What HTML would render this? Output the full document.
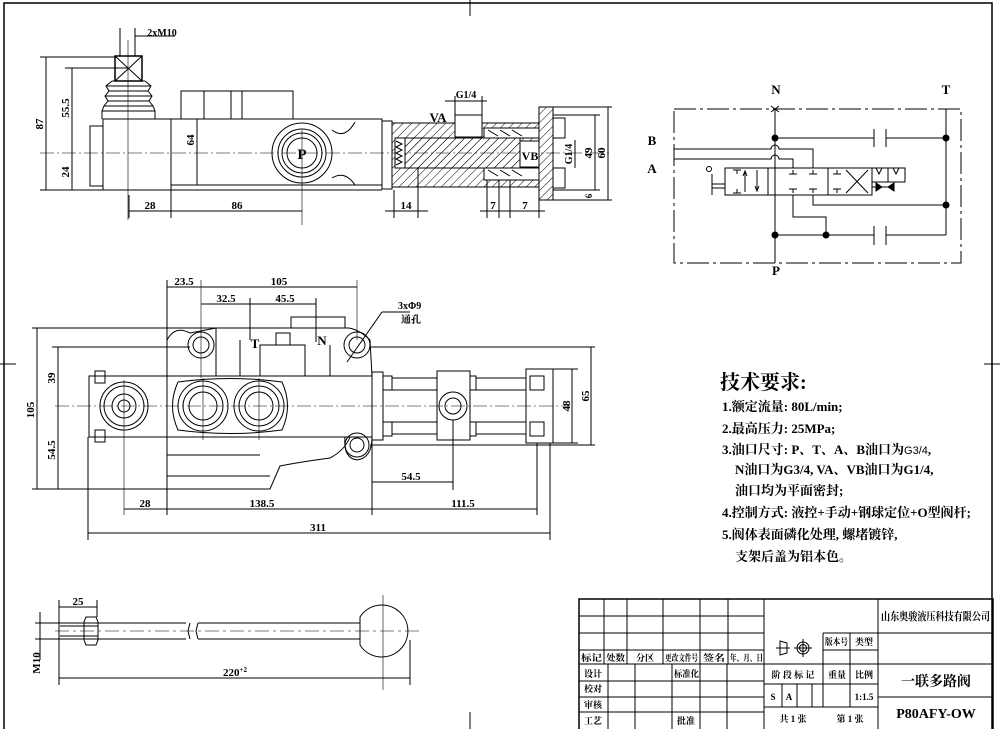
<!DOCTYPE html>
<html><head><meta charset="utf-8"><style>
html,body{margin:0;padding:0;background:#fff;}
svg{display:block;}
text{font-family:"Liberation Serif","Noto Serif CJK SC","Noto Sans CJK SC",serif;font-weight:bold;fill:#000;}
.s{font-family:"Liberation Sans","Noto Sans CJK SC",sans-serif;}
</style></head><body>
<svg width="1000" height="729" viewBox="0 0 1000 729" xmlns="http://www.w3.org/2000/svg">
<defs>
<pattern id="h" width="6" height="6" patternUnits="userSpaceOnUse" patternTransform="rotate(45)">
<line x1="0" y1="0" x2="0" y2="6" stroke="#000" stroke-width="1"/></pattern>
</defs>
<g fill="none" stroke="#000" stroke-width="1">
<rect x="4" y="3" width="988" height="730" stroke-width="1.5"/>
<line x1="470" y1="0" x2="470" y2="16"/><line x1="0" y1="364" x2="16" y2="364"/><line x1="984" y1="364" x2="1000" y2="364"/>
<line x1="470" y1="712" x2="470" y2="729"/>

<!-- TOP VIEW -->
<line x1="40" y1="153" x2="610" y2="153" stroke-dasharray="14,3,2,3" stroke-width="0.6"/>
<rect x="115" y="56" width="27" height="25" stroke-width="1.5"/>
<line x1="115" y1="56" x2="142" y2="81"/><line x1="142" y1="56" x2="115" y2="81"/>
<line x1="128" y1="40" x2="128" y2="220" stroke-width="0.6"/>
<line x1="120" y1="28" x2="120" y2="56"/><line x1="135" y1="28" x2="135" y2="56"/>
<line x1="135" y1="36" x2="175" y2="36"/>
<path d="M112 81 h33 M106 86 h45 M109 91 h39 M105 96 h47 M108 101 h41 M104 106 h49 M102 111 h53"/>
<path d="M112 81 L106 86 L109 91 L105 96 L108 101 L104 106 L102 111 L102 119 M145 81 L151 86 L148 91 L152 96 L149 101 L153 106 L155 111 L155 119"/>
<rect x="90" y="126" width="13" height="60"/>
<rect x="103" y="119" width="68" height="71"/>
<rect x="171" y="119" width="211" height="66"/>
<line x1="171" y1="190" x2="382" y2="190"/>
<rect x="181" y="91" width="112" height="28"/>
<line x1="204" y1="91" x2="204" y2="119"/><line x1="231" y1="91" x2="231" y2="119"/><line x1="242" y1="91" x2="242" y2="119"/>
<circle cx="302" cy="153" r="30"/>
<circle cx="302" cy="153" r="24"/><circle cx="302" cy="153" r="20"/><circle cx="302" cy="153" r="15"/>
<text x="302" y="159" text-anchor="middle" font-size="15" stroke="none">P</text>
<line x1="302" y1="130" x2="302" y2="225" stroke-width="0.6"/>
<path d="M332 130 Q345 140 355 122 M355 185 Q345 170 332 178" />
<rect x="382" y="121" width="10" height="68"/>
<path d="M392 123 H455 V115 H482 V123 H539 V187 H392 Z" fill="url(#h)"/>
<rect x="455" y="115" width="27" height="22" fill="#fff"/>
<rect x="403" y="138" width="117" height="30" fill="url(#h)"/>
<rect x="395" y="138" width="10" height="30" fill="#fff"/>
<path d="M396 141 l6 3 -6 3 6 3 -6 3 6 3 -6 3 6 3 -6 3" />
<rect x="484" y="128" width="55" height="10" fill="#fff"/>
<rect x="484" y="168" width="55" height="12" fill="#fff"/>
<path d="M488 130 l10 6 M500 130 l10 6 M512 130 l10 6 M488 170 l10 6 M500 170 l10 6 M512 170 l10 6"/>
<rect x="520" y="141" width="19" height="26" fill="#fff"/>
<text x="530" y="160" text-anchor="middle" font-size="12" stroke="none">VB</text>
<rect x="539" y="107" width="14" height="93" fill="url(#h)"/>
<rect x="553" y="118" width="12" height="20"/><rect x="553" y="168" width="12" height="20"/>
<text x="438" y="122" text-anchor="middle" font-size="13" stroke="none">VA</text>
<line x1="445" y1="101" x2="487" y2="101"/>
<text x="466" y="98" text-anchor="middle" font-size="10" stroke="none">G1/4</text>
<line x1="455" y1="96" x2="455" y2="115"/><line x1="482" y1="96" x2="482" y2="115"/>
<line x1="40" y1="57" x2="115" y2="57"/><line x1="65" y1="68" x2="128" y2="68"/>
<line x1="40" y1="190" x2="103" y2="190"/>
<line x1="46" y1="57" x2="46" y2="190"/><line x1="72" y1="68" x2="72" y2="190"/>
<line x1="129" y1="195" x2="129" y2="218"/><line x1="171" y1="190" x2="171" y2="218"/>
<line x1="129" y1="211" x2="302" y2="211"/>
<line x1="394" y1="190" x2="394" y2="218"/><line x1="418" y1="168" x2="418" y2="218"/>
<line x1="385" y1="211" x2="428" y2="211"/>
<line x1="487" y1="180" x2="487" y2="218"/><line x1="499" y1="180" x2="499" y2="218"/><line x1="510" y1="180" x2="510" y2="218"/><line x1="539" y1="200" x2="539" y2="218"/>
<line x1="480" y1="211" x2="545" y2="211"/>
<line x1="553" y1="115" x2="600" y2="115"/><line x1="553" y1="190" x2="600" y2="190"/>
<line x1="553" y1="107" x2="612" y2="107"/><line x1="553" y1="200" x2="612" y2="200"/>
<line x1="595" y1="115" x2="595" y2="190"/><line x1="608" y1="107" x2="608" y2="200"/>
<line x1="575" y1="140" x2="575" y2="168"/>
<line x1="197" y1="119" x2="197" y2="185"/>
</g>
<g stroke="none" font-size="11">
<text x="162" y="36" text-anchor="middle" font-size="10">2xM10</text>
<text transform="translate(43,124) rotate(-90)" text-anchor="middle">87</text>
<text transform="translate(69,108) rotate(-90)" text-anchor="middle">55.5</text>
<text transform="translate(69,172) rotate(-90)" text-anchor="middle">24</text>
<text transform="translate(194,140) rotate(-90)" text-anchor="middle">64</text>
<text x="150" y="209" text-anchor="middle">28</text>
<text x="237" y="209" text-anchor="middle">86</text>
<text x="406" y="209" text-anchor="middle">14</text>
<text x="493" y="209" text-anchor="middle">7</text>
<text x="525" y="209" text-anchor="middle">7</text>
<text transform="translate(592,153) rotate(-90)" text-anchor="middle">49</text>
<text transform="translate(605,153) rotate(-90)" text-anchor="middle">60</text>
<text transform="translate(572,154) rotate(-90)" text-anchor="middle" font-size="10">G1/4</text>
<text transform="translate(592,196) rotate(-90)" text-anchor="middle" font-size="9">6</text>
</g>

<!-- FRONT VIEW -->
<g fill="none" stroke="#000" stroke-width="1">
<line x1="55" y1="406" x2="570" y2="406" stroke-dasharray="14,3,2,3" stroke-width="0.6"/>
<path d="M167 376 V340 Q175 325 190 333 L216 328 H349 Q360 330 370 340 L372 376"/>
<path d="M216 328 V376 M240 340 V376"/>
<circle cx="201" cy="345" r="13"/><circle cx="201" cy="345" r="8"/>
<circle cx="357" cy="345" r="13"/><circle cx="357" cy="345" r="8"/>
<rect x="260" y="345" width="45" height="31"/>
<rect x="276" y="333" width="14" height="12"/>
<rect x="291" y="317" width="54" height="11"/>
<line x1="330" y1="345" x2="330" y2="376"/>
<rect x="89" y="376" width="78" height="61"/>
<rect x="95" y="371" width="10" height="12"/><rect x="95" y="430" width="10" height="12"/>
<circle cx="124" cy="406" r="24"/><circle cx="124" cy="406" r="20"/><circle cx="124" cy="406" r="12"/><circle cx="124" cy="406" r="6"/>
<line x1="124" y1="380" x2="124" y2="515" stroke-width="0.6"/>
<rect x="167" y="376" width="205" height="61"/>
<path d="M178 382 Q230 375 282 382 Q293 406 282 430 Q230 437 178 430 Q167 406 178 382" />
<circle cx="203" cy="406" r="25"/><circle cx="203" cy="406" r="20"/><circle cx="203" cy="406" r="14"/>
<circle cx="259" cy="406" r="25"/><circle cx="259" cy="406" r="20"/><circle cx="259" cy="406" r="14"/>
<line x1="203" y1="378" x2="203" y2="440" stroke-width="0.6"/><line x1="259" y1="378" x2="259" y2="440" stroke-width="0.6"/>
<line x1="201" y1="280" x2="201" y2="378" stroke-width="0.6"/>
<line x1="357" y1="280" x2="357" y2="340" stroke-width="0.6"/>
<path d="M167 437 V489 H270 L280 466 Q300 462 330 458 Q345 450 350 437"/>
<path d="M167 455 H260 M167 476 H270"/>
<circle cx="357" cy="445" r="12"/><circle cx="357" cy="445" r="7"/>
<path d="M345 437 Q343 458 357 460 Q372 458 372 437"/>
<rect x="372" y="372" width="11" height="68"/>
<rect x="383" y="376" width="9" height="14"/><rect x="383" y="422" width="9" height="14"/>
<path d="M392 378 H437 M392 390 H437 M392 422 H437 M392 434 H437"/>
<rect x="437" y="371" width="33" height="69"/>
<circle cx="453" cy="406" r="14"/><circle cx="453" cy="406" r="8"/>
<rect x="470" y="376" width="6" height="14"/><rect x="470" y="422" width="6" height="14"/>
<path d="M476 378 H526 M476 390 H526 M476 422 H526 M476 434 H526"/>
<rect x="526" y="369" width="27" height="74"/>
<rect x="530" y="376" width="14" height="14"/><rect x="530" y="422" width="14" height="14"/>
<line x1="167" y1="280" x2="167" y2="515"/>
<line x1="201" y1="287" x2="357" y2="287"/><line x1="167" y1="287" x2="201" y2="287"/>
<line x1="201" y1="304" x2="316" y2="304"/>
<line x1="250" y1="298" x2="250" y2="340"/><line x1="316" y1="298" x2="316" y2="342"/>
<line x1="382" y1="312" x2="347" y2="362"/><line x1="382" y1="312" x2="410" y2="312"/>
<line x1="32" y1="328" x2="216" y2="328"/><line x1="52" y1="347" x2="190" y2="347"/>
<line x1="32" y1="489" x2="167" y2="489"/>
<line x1="37" y1="328" x2="37" y2="489"/><line x1="58" y1="347" x2="58" y2="489"/>
<line x1="370" y1="347" x2="595" y2="347"/><line x1="370" y1="445" x2="595" y2="445"/>
<line x1="553" y1="369" x2="578" y2="369"/><line x1="553" y1="443" x2="578" y2="443"/>
<line x1="591" y1="347" x2="591" y2="445"/><line x1="572" y1="369" x2="572" y2="443"/>
<line x1="372" y1="440" x2="372" y2="515"/>
<line x1="453" y1="420" x2="453" y2="490"/>
<line x1="372" y1="482" x2="453" y2="482"/>
<line x1="537" y1="443" x2="537" y2="515"/>
<line x1="124" y1="509" x2="537" y2="509"/>
<line x1="88" y1="437" x2="88" y2="540"/><line x1="550" y1="443" x2="550" y2="540"/>
<line x1="88" y1="533" x2="550" y2="533"/>
</g>
<g stroke="none" font-size="11">
<text x="184" y="285" text-anchor="middle">23.5</text>
<text x="279" y="285" text-anchor="middle">105</text>
<text x="226" y="302" text-anchor="middle">32.5</text>
<text x="285" y="302" text-anchor="middle">45.5</text>
<text x="255" y="348" text-anchor="middle" font-size="13">T</text>
<text x="322" y="345" text-anchor="middle" font-size="13">N</text>
<text x="398" y="309" font-size="10">3xΦ9</text>
<text x="401" y="323" font-size="10">通孔</text>
<text transform="translate(34,410) rotate(-90)" text-anchor="middle">105</text>
<text transform="translate(55,378) rotate(-90)" text-anchor="middle">39</text>
<text transform="translate(55,450) rotate(-90)" text-anchor="middle">54.5</text>
<text transform="translate(589,396) rotate(-90)" text-anchor="middle">65</text>
<text transform="translate(570,406) rotate(-90)" text-anchor="middle">48</text>
<text x="145" y="507" text-anchor="middle">28</text>
<text x="262" y="507" text-anchor="middle">138.5</text>
<text x="463" y="507" text-anchor="middle">111.5</text>
<text x="411" y="480" text-anchor="middle">54.5</text>
<text x="318" y="531" text-anchor="middle">311</text>
</g>

<!-- SCHEMATIC -->
<g fill="none" stroke="#000" stroke-width="1">
<rect x="674" y="109" width="287" height="154" stroke-dasharray="22,4,3,4"/>
<line x1="775" y1="109" x2="775" y2="263"/>
<path d="M771 106 l8 6 M779 106 l-8 6"/>
<line x1="946" y1="109" x2="946" y2="235"/>
<line x1="775" y1="138" x2="874" y2="138"/><line x1="886" y1="138" x2="946" y2="138"/>
<line x1="874" y1="129" x2="874" y2="147"/><line x1="886" y1="129" x2="886" y2="147"/>
<line x1="775" y1="235" x2="874" y2="235"/><line x1="886" y1="235" x2="946" y2="235"/>
<line x1="874" y1="226" x2="874" y2="245"/><line x1="886" y1="226" x2="886" y2="245"/>
<path d="M674 149 H771 A4 4 0 0 1 779 149 H813 V168"/>
<path d="M674 159 H771 A4 4 0 0 1 779 159 H793 V168"/>
<rect x="725" y="168" width="147" height="27"/>
<line x1="768" y1="168" x2="768" y2="195"/><line x1="828" y1="168" x2="828" y2="195"/>
<path d="M733 170 h8 M737 170 v4 M733 193 h8 M737 193 v-4"/>
<path d="M745 192 V172 M743 176 l2 -5 2 5"/>
<path d="M757 170 V190 M755 186 l2 5 2 -5"/>
<path d="M789 174 h8 M793 174 v-4 M809 174 h8 M813 174 v-4 M789 189 h8 M793 189 v4 M809 189 h8 M813 189 v4"/>
<path d="M833 174 h8 M837 174 v-4 M833 189 h8 M837 189 v4"/>
<path d="M846 170 L868 193 M868 170 L846 193"/>
<path d="M872 168 H905 V182 H872 M888 168 V182 M876 168 l3 6 3 -6 M893 168 l3 6 3 -6"/>
<path d="M872 187 h22 M876 183 l6 4 -6 4 Z M894 183 l-6 4 6 4 Z" fill="#000"/>
<path d="M712 174 V195 M712 184 H725 M712 188 H725"/>
<circle cx="709" cy="169" r="2.5"/>
<path d="M793 195 V217 H826 V235"/>
<path d="M813 195 V205 H946"/>
</g>
<g fill="#000" stroke="none">
<circle cx="775" cy="138" r="3.5"/><circle cx="946" cy="138" r="3.5"/><circle cx="946" cy="205" r="3.5"/>
<circle cx="775" cy="235" r="3.5"/><circle cx="826" cy="235" r="3.5"/>
<text x="776" y="94" text-anchor="middle" font-size="13">N</text>
<text x="946" y="94" text-anchor="middle" font-size="13">T</text>
<text x="776" y="275" text-anchor="middle" font-size="13">P</text>
<text x="652" y="145" text-anchor="middle" font-size="13">B</text>
<text x="652" y="173" text-anchor="middle" font-size="13">A</text>
</g>

<!-- TECH REQ -->
<g stroke="none" font-size="13">
<text x="720" y="389" font-size="20">技术要求:</text>
<text x="722" y="411">1.额定流量: 80L/min;</text>
<text x="722" y="433">2.最高压力: 25MPa;</text>
<text x="722" y="454">3.油口尺寸: P、T、A、B油口为<tspan class="s" font-weight="normal" font-size="11">G3/4</tspan>,</text>
<text x="735" y="474">N油口为G3/4,  VA、VB油口为G1/4,</text>
<text x="735" y="495">油口均为平面密封;</text>
<text x="722" y="517">4.控制方式: 液控+手动+钢球定位+O型阀杆;</text>
<text x="722" y="539">5.阀体表面磷化处理, 螺堵镀锌,</text>
<text x="735" y="561">支架后盖为铝本色。</text>
</g>

<!-- HANDLE -->
<g fill="none" stroke="#000" stroke-width="1">
<path d="M59 623 H186 M59 639 H186 M190 623 L188 631 L190 639 M198 623 L196 631 L198 639 M198 623 H360 M198 639 H360"/>
<rect x="59" y="623" width="25" height="16"/>
<path d="M60 626 H84 M60 636 H84"/>
<path d="M86 617 H96 L98 622 V640 L96 645 H86 L84 640 V622 Z M84 626 H98 M84 636 H98"/>
<path d="M360 617 A26 26 0 1 1 360 645 Z"/>
<line x1="55" y1="631" x2="420" y2="631" stroke-dasharray="14,4,3,4" stroke-width="0.6"/>
<line x1="383" y1="595" x2="383" y2="690" stroke-width="0.6"/>
<line x1="59" y1="600" x2="59" y2="685"/><line x1="97" y1="600" x2="97" y2="617"/>
<line x1="59" y1="607" x2="97" y2="607"/>
<line x1="410" y1="640" x2="410" y2="685"/>
<line x1="59" y1="678" x2="410" y2="678"/>
<line x1="35" y1="623" x2="59" y2="623"/><line x1="35" y1="639" x2="59" y2="639"/>
<line x1="40" y1="612" x2="40" y2="660"/>
</g>
<g stroke="none" font-size="11">
<text x="78" y="605" text-anchor="middle">25</text>
<text x="235" y="676" text-anchor="middle">220<tspan font-size="7" dy="-4">+2</tspan></text>
<text transform="translate(40,663) rotate(-90)" text-anchor="middle">M10</text>
</g>

<!-- TITLE BLOCK -->
<g fill="none" stroke="#000" stroke-width="1">
<rect x="579" y="599" width="414" height="132" stroke-width="1.5"/>
<path d="M579 616 H764 M579 633 H764 M579 650 H764 M579 664 H878 M579 681 H764 M579 697 H764 M579 712 H764"/>
<path d="M604 599 V664 M627 599 V664 M663 599 V664 M700 599 V664 M728 599 V664 M764 599 V729"/>
<path d="M608 664 V729 M635 664 V729 M672 664 V729 M700 664 V729 M727 664 V729"/>
<path d="M823 633 H993 M823 650 H878 M764 684 H878 M764 707 H878 M878 599 V729 M823 633 V707 M850 633 V707 M878 664 H993 M878 697 H993"/>
<path d="M782 684 V707 M797 684 V707 M812 684 V707"/>
<path d="M780 641 L787 643 V653 L780 655 Z M776 648 H790"/>
<circle cx="803" cy="648" r="6"/><circle cx="803" cy="648" r="3.5"/><path d="M794 648 H812 M803 639 V657"/>
</g>
<g stroke="none" font-size="9">
<text x="881" y="620" font-size="11" textLength="109" lengthAdjust="spacingAndGlyphs">山东奥骏液压科技有限公司</text>
<text x="825" y="645" textLength="23" lengthAdjust="spacingAndGlyphs">版本号</text>
<text x="864" y="645" text-anchor="middle">类型</text>
<text x="581" y="661" textLength="21" lengthAdjust="spacingAndGlyphs">标记</text>
<text x="606" y="661" textLength="19" lengthAdjust="spacingAndGlyphs">处数</text>
<text x="645" y="661" text-anchor="middle">分区</text>
<text x="665" y="661" textLength="33" lengthAdjust="spacingAndGlyphs">更改文件号</text>
<text x="703" y="661" textLength="22" lengthAdjust="spacingAndGlyphs">签名</text>
<text x="730" y="661" textLength="33" lengthAdjust="spacingAndGlyphs">年、月、日</text>
<text x="593" y="677" text-anchor="middle">设计</text><text x="593" y="692" text-anchor="middle">校对</text>
<text x="593" y="708" text-anchor="middle">审核</text><text x="593" y="724" text-anchor="middle">工艺</text>
<text x="674" y="677" textLength="25" lengthAdjust="spacingAndGlyphs">标准化</text>
<text x="686" y="724" text-anchor="middle">批准</text>
<text x="793" y="678" text-anchor="middle">阶 段 标 记</text>
<text x="837" y="678" text-anchor="middle">重量</text><text x="864" y="678" text-anchor="middle">比例</text>
<text x="773" y="700" text-anchor="middle">S</text><text x="789" y="700" text-anchor="middle">A</text>
<text x="864" y="700" text-anchor="middle">1:1.5</text>
<text x="793" y="722" text-anchor="middle">共 1 张</text><text x="850" y="722" text-anchor="middle">第 1 张</text>
<text x="936" y="686" text-anchor="middle" font-size="14">一联多路阀</text>
<text x="936" y="718" text-anchor="middle" font-size="14">P80AFY-OW</text>
</g>
</svg>
</body></html>
